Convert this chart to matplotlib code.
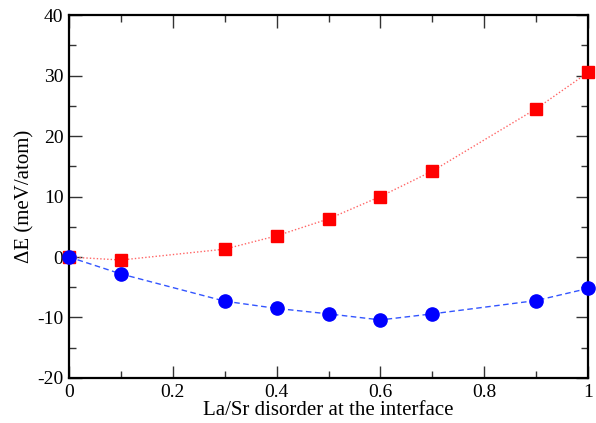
import numpy as np
import matplotlib
matplotlib.use('Agg')
import matplotlib.pyplot as plt
from matplotlib.ticker import MultipleLocator

plt.rcParams['font.family'] = ['Liberation Serif', 'DejaVu Serif']
plt.rcParams['axes.unicode_minus'] = False

# donnees
x_red = [0.0, 0.1, 0.3, 0.4, 0.5, 0.6, 0.7, 0.9, 1.0]
y_red = [0.0, -0.5, 1.3, 3.5, 6.3, 10.0, 14.2, 24.5, 30.5]
x_blue = [0.0, 0.1, 0.3, 0.4, 0.5, 0.6, 0.7, 0.9, 1.0]
y_blue = [0.0, -2.8, -7.3, -8.5, -9.4, -10.4, -9.4, -7.2, -5.2]
xticklabels = ['0', '0.2', '0.4', '0.6', '0.8', '1']

fig = plt.figure(figsize=(5.96, 4.23), dpi=100)
ax = fig.add_axes([0.1158, 0.1064, 0.8708, 0.8581])

# lignes et symboles separes
ax.plot(x_red, y_red, linestyle=(0, (1, 1.5)), color='#ff6666', lw=1.0,
        zorder=2)
ax.plot(x_red, y_red, linestyle='none', marker='s', markersize=8.5,
        color='red', clip_on=False, zorder=3)
ax.plot(x_blue, y_blue, linestyle=(0, (4, 2.5)), color='#3355ff', lw=1.0,
        zorder=2)
ax.plot(x_blue, y_blue, linestyle='none', marker='o', markersize=9.5,
        color='blue', clip_on=False, zorder=3)

ax.set_xlim(0, 1)
ax.set_ylim(-20, 40)
ax.set_xticks([0, 0.2, 0.4, 0.6, 0.8, 1.0])
ax.set_xticklabels(xticklabels)
ax.xaxis.set_minor_locator(MultipleLocator(0.1))
ax.yaxis.set_major_locator(MultipleLocator(10))
ax.yaxis.set_minor_locator(MultipleLocator(5))

ax.tick_params(which='both', direction='in', top=True, right=True,
               labelsize=14, width=1.0, color='#333333', pad=4)
ax.tick_params(which='major', length=9)
ax.tick_params(which='minor', length=5)
for s in ax.spines.values():
    s.set_linewidth(1.6)

ax.set_xlabel('La/Sr disorder at the interface', fontsize=15, labelpad=0)
ax.set_ylabel('ΔE (meV/atom)', fontsize=15, labelpad=2)

fig.savefig('out.png', dpi=100)
